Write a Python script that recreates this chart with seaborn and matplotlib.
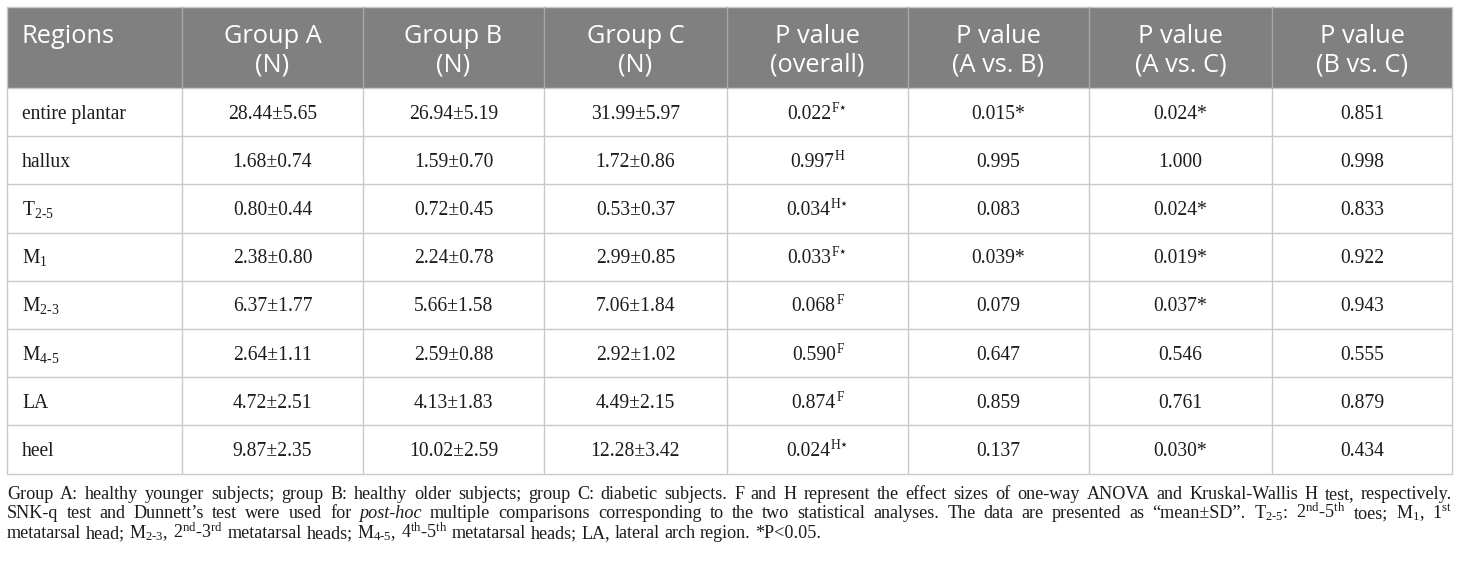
#%%
import numpy as np
import pandas as pd
import seaborn as sns
import matplotlib.pyplot as plt
from matplotlib.patches import Rectangle

#%% Table data
regions = ['entire plantar', 'hallux', 'T$_{2\u20105}$', 'M$_{1}$',
           'M$_{2\u20103}$', 'M$_{4\u20105}$', 'LA', 'heel']
mean_a = [28.44, 1.68, 0.80, 2.38, 6.37, 2.64, 4.72, 9.87]
sd_a = [5.65, 0.74, 0.44, 0.80, 1.77, 1.11, 2.51, 2.35]
mean_b = [26.94, 1.59, 0.72, 2.24, 5.66, 2.59, 4.13, 10.02]
sd_b = [5.19, 0.70, 0.45, 0.78, 1.58, 0.88, 1.83, 2.59]
mean_c = [31.99, 1.72, 0.53, 2.99, 7.06, 2.92, 4.49, 12.28]
sd_c = [5.97, 0.86, 0.37, 0.85, 1.84, 1.02, 2.15, 3.42]
p_overall = [0.022, 0.997, 0.034, 0.033, 0.068, 0.590, 0.874, 0.024]
test_used = ['F', 'H', 'H', 'F', 'F', 'F', 'F', 'H']
p_ab = [0.015, 0.995, 0.083, 0.039, 0.079, 0.647, 0.859, 0.137]
p_ac = [0.024, 1.000, 0.024, 0.019, 0.037, 0.546, 0.761, 0.030]
p_bc = [0.851, 0.998, 0.833, 0.922, 0.943, 0.555, 0.879, 0.434]

headers = ['Regions', 'Group A\n(N)', 'Group B\n(N)', 'Group C\n(N)',
           'P value\n(overall)', 'P value\n(A vs. B)', 'P value\n(A vs. C)',
           'P value\n(B vs. C)']

note_lines = [
    'Group A: healthy younger subjects; group B: healthy older subjects; group C: diabetic subjects. '
    'F and H represent the effect sizes of one-way ANOVA and Kruskal-Wallis H test, respectively.',
    'SNK-q test and Dunnett\u2019s test were used for post-hoc multiple comparisons corresponding to '
    'the two statistical analyses. The data are presented as \u201cmean\u00b1SD\u201d. '
    'T$_{2\u20105}$: 2$^{nd}$-5$^{th}$ toes; M$_{1}$, 1$^{st}$',
    'metatarsal head; M$_{2\u20103}$, 2$^{nd}$-3$^{rd}$ metatarsal heads; M$_{4\u20105}$, '
    '4$^{th}$-5$^{th}$ metatarsal heads; LA, lateral arch region. *P<0.05.',
]
italic_words = ['post-hoc']

#%% Build cell strings (number part, superscript part)
def fmt_p(p, sup=''):
    star = p < 0.05
    if sup:
        return (f'{p:.3f}', sup + ('\u22c6' if star else ''))
    return (f'{p:.3f}' + ('*' if star else ''), '')

df = pd.DataFrame({
    'region': [(r, '') for r in regions],
    'a': [(f'{m:.2f}\u00b1{s:.2f}', '') for m, s in zip(mean_a, sd_a)],
    'b': [(f'{m:.2f}\u00b1{s:.2f}', '') for m, s in zip(mean_b, sd_b)],
    'c': [(f'{m:.2f}\u00b1{s:.2f}', '') for m, s in zip(mean_c, sd_c)],
    'p_all': [fmt_p(p, t) for p, t in zip(p_overall, test_used)],
    'p_ab': [fmt_p(p) for p in p_ab],
    'p_ac': [fmt_p(p) for p in p_ac],
    'p_bc': [fmt_p(p) for p in p_bc],
})

#%% Style
sns.set_theme(style='white')
plt.rcParams['font.family'] = ['Liberation Serif', 'DejaVu Serif']
plt.rcParams['mathtext.fontset'] = 'custom'
plt.rcParams['mathtext.rm'] = 'Liberation Serif'
plt.rcParams['mathtext.it'] = 'Liberation Serif'
plt.rcParams['mathtext.bf'] = 'Liberation Serif:bold'

col_w = [175, 181, 181, 183, 181, 181, 183, 180]
left, top = 7, 7
header_h = 81
row_h = 48.2
col_edges = np.concatenate([[left], left + np.cumsum(col_w)])
n_rows = len(df)
row_edges = top + header_h + row_h * np.arange(n_rows + 1)
bottom = row_edges[-1]

fig = plt.figure(figsize=(14.6, 5.61), dpi=100)
ax = fig.add_axes([0, 0, 1, 1])
ax.set_xlim(0, 1460)
ax.set_ylim(561, 0)
ax.axis('off')
renderer = fig.canvas.get_renderer()

# header band
ax.add_patch(Rectangle((col_edges[0], top), col_edges[-1] - col_edges[0], header_h,
                       facecolor='#808080', edgecolor='none', zorder=1))

grid_c = '#c9c9c9'
for y in row_edges:
    ax.plot([col_edges[0], col_edges[-1]], [y, y], color=grid_c, lw=1.0, zorder=2)
ax.plot([col_edges[0], col_edges[-1]], [top, top], color=grid_c, lw=1.0, zorder=2)
for i, x in enumerate(col_edges):
    ax.plot([x, x], [row_edges[0], bottom], color=grid_c, lw=1.0, zorder=2)
    ax.plot([x, x], [top, row_edges[0]], color='#a8a8a8' if 0 < i < len(col_edges) - 1 else grid_c,
            lw=1.0, zorder=2)

# header text
head_font = ['Open Sans', 'DejaVu Sans']
head_fs = 18.3
for j, h in enumerate(headers):
    if j == 0:
        ax.text(col_edges[0] + 15, top + 36, h, ha='left', va='baseline', color='white',
                fontsize=head_fs, family=head_font, zorder=3)
    else:
        cx = (col_edges[j] + col_edges[j + 1]) / 2
        l1, l2 = h.split('\n')
        ax.text(cx, top + 36, l1, ha='center', va='baseline', color='white',
                fontsize=head_fs, family=head_font, zorder=3)
        ax.text(cx, top + 64, l2, ha='center', va='baseline', color='white',
                fontsize=head_fs, family=head_font, zorder=3)

# body text
body_fs = 14.1
sup_fs = 9.8
ink = '#1c1c1c'
for i, row in enumerate(df.itertuples(index=False)):
    yb = (row_edges[i] + row_edges[i + 1]) / 2 + 6.5
    for j, (val, sup) in enumerate(row):
        if j == 0:
            ax.text(col_edges[0] + 15, yb, val, ha='left', va='baseline', fontsize=body_fs,
                    color=ink, zorder=3)
            continue
        cx = (col_edges[j] + col_edges[j + 1]) / 2
        t = ax.text(cx, yb, val, ha='left', va='baseline', fontsize=body_fs, color=ink, zorder=3)
        w_main = t.get_window_extent(renderer).width
        w_sup = 0
        if sup:
            s = ax.text(cx, yb - 7, sup, ha='left', va='baseline', fontsize=sup_fs, color=ink,
                        zorder=3, family=['Liberation Serif', 'DejaVu Sans'])
            w_sup = s.get_window_extent(renderer).width
            s.set_x(cx - (w_main + w_sup) / 2 + w_main + 0.5)
        t.set_x(cx - (w_main + w_sup) / 2)

#%% Footnote (justified)
note_fs = 13.1
note_base = [499, 518.5, 538]
x0, x1 = col_edges[0], col_edges[-1]
for k, line in enumerate(note_lines):
    words = line.split(' ')
    texts = []
    for w in words:
        t = ax.text(0, note_base[k], w, ha='left', va='baseline', fontsize=note_fs,
                    color=ink, fontstyle='italic' if w in italic_words else 'normal')
        texts.append(t)
    widths = [t.get_window_extent(renderer).width for t in texts]
    if k < len(note_lines) - 1:
        gap = (x1 - x0 - sum(widths)) / (len(words) - 1)
    else:
        gap = note_fs * 100 / 72 * 0.25
    x = x0
    for t, w in zip(texts, widths):
        t.set_x(x)
        x += w + gap

fig.savefig('out.png', dpi=100)
